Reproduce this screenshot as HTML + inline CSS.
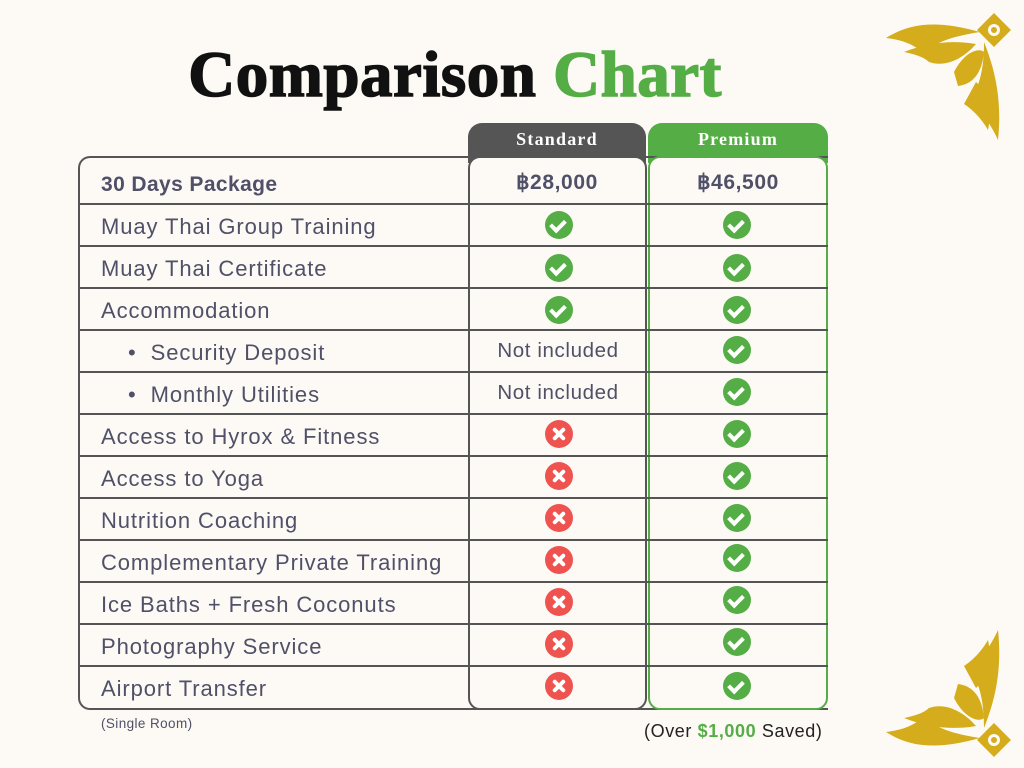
<!DOCTYPE html>
<html><head><meta charset="utf-8"><style>
body{margin:0;width:1024px;height:768px;background:#fdfaf5;position:relative;overflow:hidden;font-family:"Liberation Sans",sans-serif;}
.a{position:absolute}
.title{left:0;width:910px;text-align:center;top:38px;font-family:"Liberation Serif",serif;font-weight:900;font-size:65px;color:#111;letter-spacing:0.5px;-webkit-text-stroke:1.5px #111}
.title span{color:#55ad45;-webkit-text-stroke:1.5px #55ad45}
.line{left:78px;width:750px;height:2px;background:#555}
.lab{left:101px;font-size:22px;letter-spacing:0.9px;color:#505068;height:42px;line-height:44px}
.cell{font-size:20.5px;letter-spacing:0.6px;color:#505068;text-align:center;height:42px;line-height:42px}
.ok,.no{position:absolute;width:28px;height:28px;border-radius:50%}
.ok{background:#55ad45}.no{background:#ef5350}
.ok:after{content:"";position:absolute;left:8px;top:6px;width:6px;height:11px;border:solid #fff;border-width:0 4px 4px 0;transform:rotate(45deg)}
.no:before,.no:after{content:"";position:absolute;left:12px;top:6px;width:4px;height:16px;background:#fff;border-radius:2px;transform:rotate(45deg)}
.no:after{transform:rotate(-45deg)}
</style></head><body>
<div class="a title">Comparison <span>Chart</span></div>

<div class="a" style="left:468px;top:123px;width:178px;height:40px;background:#555;border-radius:14px 14px 0 0"></div>
<div class="a" style="left:468px;top:129px;width:178px;text-align:center;font-family:'Liberation Serif',serif;font-weight:bold;font-size:18px;color:#fff;letter-spacing:1.2px">Standard</div>
<div class="a" style="left:648px;top:123px;width:180px;height:40px;background:#55ad45;border-radius:14px 14px 0 0"></div>
<div class="a" style="left:648px;top:129px;width:180px;text-align:center;font-family:'Liberation Serif',serif;font-weight:bold;font-size:18px;color:#fff;letter-spacing:1.2px">Premium</div>

<div class="a" style="left:78px;top:156px;width:748px;height:550px;border:2px solid #555;border-right:none;border-radius:12px 0 0 12px"></div>
<div class="a" style="left:468px;top:156px;width:175px;height:550px;border:2px solid #555;border-radius:12px;background:#fdfaf5"></div>
<div class="a" style="left:648px;top:156px;width:176px;height:550px;border:2px solid #55ad45;border-radius:12px;background:#fdfaf5"></div>

<div class="a line" style="top:203px"></div><div class="a line" style="top:245px"></div>
<div class="a line" style="top:287px"></div><div class="a line" style="top:329px"></div>
<div class="a line" style="top:371px"></div><div class="a line" style="top:413px"></div>
<div class="a line" style="top:455px"></div><div class="a line" style="top:497px"></div>
<div class="a line" style="top:539px"></div><div class="a line" style="top:581px"></div>
<div class="a line" style="top:623px"></div><div class="a line" style="top:665px"></div>

<div class="a lab" style="top:163px;font-weight:bold;font-size:21px;letter-spacing:0.4px">30 Days Package</div>
<div class="a cell" style="left:468px;width:178px;top:162px;font-weight:bold;font-size:21px">฿28,000</div>
<div class="a cell" style="left:648px;width:180px;top:162px;font-weight:bold;font-size:21px">฿46,500</div>

<div class="a lab" style="top:205px">Muay Thai Group Training</div>
<div class="a lab" style="top:247px">Muay Thai Certificate</div>
<div class="a lab" style="top:289px">Accommodation</div>
<div class="a lab" style="top:331px;left:128px">•&nbsp; Security Deposit</div>
<div class="a lab" style="top:373px;left:128px">•&nbsp; Monthly Utilities</div>
<div class="a lab" style="top:415px">Access to Hyrox &amp; Fitness</div>
<div class="a lab" style="top:457px">Access to Yoga</div>
<div class="a lab" style="top:499px">Nutrition Coaching</div>
<div class="a lab" style="top:541px">Complementary Private Training</div>
<div class="a lab" style="top:583px">Ice Baths + Fresh Coconuts</div>
<div class="a lab" style="top:625px">Photography Service</div>
<div class="a lab" style="top:667px">Airport Transfer</div>

<div class="a cell" style="left:468px;width:180px;top:330px">Not included</div>
<div class="a cell" style="left:468px;width:180px;top:372px">Not included</div>

<div class="ok" style="left:545px;top:211px"></div>
<div class="ok" style="left:545px;top:254px"></div>
<div class="ok" style="left:545px;top:296px"></div>
<div class="no" style="left:545px;top:420px"></div>
<div class="no" style="left:545px;top:462px"></div>
<div class="no" style="left:545px;top:504px"></div>
<div class="no" style="left:545px;top:546px"></div>
<div class="no" style="left:545px;top:588px"></div>
<div class="no" style="left:545px;top:630px"></div>
<div class="no" style="left:545px;top:672px"></div>

<div class="ok" style="left:723px;top:211px"></div>
<div class="ok" style="left:723px;top:254px"></div>
<div class="ok" style="left:723px;top:296px"></div>
<div class="ok" style="left:723px;top:336px"></div>
<div class="ok" style="left:723px;top:378px"></div>
<div class="ok" style="left:723px;top:420px"></div>
<div class="ok" style="left:723px;top:462px"></div>
<div class="ok" style="left:723px;top:504px"></div>
<div class="ok" style="left:723px;top:544px"></div>
<div class="ok" style="left:723px;top:586px"></div>
<div class="ok" style="left:723px;top:628px"></div>
<div class="ok" style="left:723px;top:672px"></div>

<div class="a" style="left:101px;top:716px;font-size:13.5px;letter-spacing:0.4px;color:#505068">(Single Room)</div>
<div class="a" style="left:644px;top:721px;font-size:18px;letter-spacing:0.6px;color:#222">(Over <b style="color:#55ad45">$1,000</b> Saved)</div>

<svg class="a" style="left:884px;top:12px" width="130" height="130" viewBox="0 0 130 130">
<g fill="#d4ac1c">
<path d="M2 26 C30 8 60 10 96 20 C70 24 50 30 40 42 C30 32 18 28 2 26Z"/>
<path d="M20 40 C45 30 70 28 92 32 C80 46 62 56 45 50 C40 45 30 42 20 40Z"/>
<path d="M70 60 C80 40 95 35 100 40 C98 60 90 72 74 74Z"/>
<path d="M100 30 C112 60 118 90 114 128 C106 110 94 96 86 88 C96 74 100 56 100 30Z"/>
<path d="M92 70 C104 80 108 100 104 118 C96 104 86 96 80 92Z"/>
<rect x="98" y="6" width="24" height="24" transform="rotate(45 110 18)"/>
</g>
<circle cx="110" cy="18" r="6" fill="#fdfaf5"/><circle cx="110" cy="18" r="3" fill="#d4ac1c"/>
</svg>
<svg class="a" style="left:884px;top:628px" width="130" height="130" viewBox="0 0 130 130">
<g transform="scale(1,-1) translate(0,-130)" fill="#d4ac1c">
<path d="M2 26 C30 8 60 10 96 20 C70 24 50 30 40 42 C30 32 18 28 2 26Z"/>
<path d="M20 40 C45 30 70 28 92 32 C80 46 62 56 45 50 C40 45 30 42 20 40Z"/>
<path d="M70 60 C80 40 95 35 100 40 C98 60 90 72 74 74Z"/>
<path d="M100 30 C112 60 118 90 114 128 C106 110 94 96 86 88 C96 74 100 56 100 30Z"/>
<path d="M92 70 C104 80 108 100 104 118 C96 104 86 96 80 92Z"/>
<rect x="98" y="6" width="24" height="24" transform="rotate(45 110 18)"/>
<circle cx="110" cy="18" r="6" fill="#fdfaf5"/><circle cx="110" cy="18" r="3"/>
</g>
</svg>
</body></html>
